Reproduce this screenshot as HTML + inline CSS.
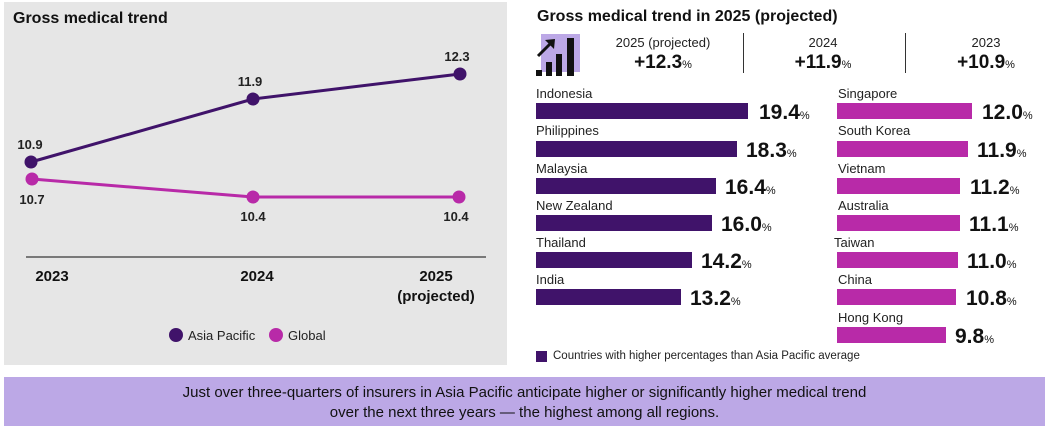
<!DOCTYPE html>
<html><head><style>
body{margin:0;width:1048px;height:430px;background:#fff;font-family:"Liberation Sans",Arial,sans-serif;position:relative;overflow:hidden}
.a{position:absolute;white-space:nowrap}
.lbl{font-size:13px;color:#222}
.bar{position:absolute;height:16px}
.d{background:#40136a}.m{background:#b82aa8}
.v{position:absolute;font-size:21px;font-weight:bold;color:#111;white-space:nowrap}
.v small{font-size:11px;font-weight:normal}
.hd{position:absolute;text-align:center;width:150px}
.hd .t{font-size:13px;color:#222}
.hd .n{font-size:19px;font-weight:bold;color:#111;margin-top:2px}
.hd .n small{font-size:11px;font-weight:normal}
</style></head><body>
<div class="a" style="left:4px;top:2px;width:503px;height:363px;background:#e6e6e6"></div>
<div class="a" style="left:13px;top:10px;font-size:16px;font-weight:bold;color:#111">Gross medical trend</div>
<svg class="a" style="left:0;top:0" width="510" height="370">
<line x1="26" y1="257" x2="486" y2="257" stroke="#555" stroke-width="1.5"/>
<polyline points="31,162 253,99 460,74" fill="none" stroke="#40136a" stroke-width="3"/>
<polyline points="32,179 253,197 459,197" fill="none" stroke="#b82aa8" stroke-width="3"/>
<circle cx="31" cy="162" r="6.5" fill="#40136a"/><circle cx="253" cy="99" r="6.5" fill="#40136a"/><circle cx="460" cy="74" r="6.5" fill="#40136a"/>
<circle cx="32" cy="179" r="6.5" fill="#b82aa8"/><circle cx="253" cy="197" r="6.5" fill="#b82aa8"/><circle cx="459" cy="197" r="6.5" fill="#b82aa8"/>
<g font-family="Liberation Sans,Arial" font-weight="bold" font-size="13" fill="#222" text-anchor="middle">
<text x="30" y="149">10.9</text><text x="250" y="86">11.9</text><text x="457" y="61">12.3</text>
<text x="32" y="204">10.7</text><text x="253" y="221">10.4</text><text x="456" y="221">10.4</text>
</g>
<g font-family="Liberation Sans,Arial" font-weight="bold" font-size="15" fill="#111" text-anchor="middle">
<text x="52" y="281">2023</text><text x="257" y="281">2024</text><text x="436" y="281">2025</text><text x="436" y="301">(projected)</text>
</g>
<circle cx="176" cy="335" r="7" fill="#40136a"/><circle cx="276" cy="335" r="7" fill="#b82aa8"/>
<g font-family="Liberation Sans,Arial" font-size="13" fill="#222"><text x="188" y="340">Asia Pacific</text><text x="288" y="340">Global</text></g>
</svg>

<div class="a" style="left:537px;top:8px;font-size:16px;font-weight:bold;color:#111">Gross medical trend in 2025 (projected)</div>
<div class="a" style="left:541px;top:34px;width:39px;height:38px;background:#bca8e6"></div>
<svg class="a" style="left:534px;top:34px" width="48" height="44">
<rect x="2" y="36" width="6" height="6" fill="#111"/><rect x="12" y="28" width="6" height="14" fill="#111"/><rect x="22" y="20" width="6" height="22" fill="#111"/><rect x="33" y="4" width="7" height="38" fill="#111"/>
<line x1="4" y1="22" x2="17" y2="9" stroke="#111" stroke-width="3"/><polygon points="11,6 21,5 20,15" fill="#111"/>
</svg>
<div class="hd" style="left:588px;top:35px"><div class="t">2025 (projected)</div><div class="n">+12.3<small>%</small></div></div>
<div class="a" style="left:743px;top:33px;width:1px;height:40px;background:#333"></div>
<div class="hd" style="left:748px;top:35px"><div class="t">2024</div><div class="n">+11.9<small>%</small></div></div>
<div class="a" style="left:905px;top:33px;width:1px;height:40px;background:#333"></div>
<div class="hd" style="left:911px;top:35px"><div class="t">2023</div><div class="n">+10.9<small>%</small></div></div>

<div class="a lbl" style="left:536px;top:86px">Indonesia</div><div class="bar d" style="left:536px;top:103px;width:212px"></div><div class="v" style="left:759px;top:101px">19.4<small>%</small></div>
<div class="a lbl" style="left:536px;top:123px">Philippines</div><div class="bar d" style="left:536px;top:141px;width:201px"></div><div class="v" style="left:746px;top:139px">18.3<small>%</small></div>
<div class="a lbl" style="left:536px;top:161px">Malaysia</div><div class="bar d" style="left:536px;top:178px;width:180px"></div><div class="v" style="left:725px;top:176px">16.4<small>%</small></div>
<div class="a lbl" style="left:536px;top:198px">New Zealand</div><div class="bar d" style="left:536px;top:215px;width:176px"></div><div class="v" style="left:721px;top:213px">16.0<small>%</small></div>
<div class="a lbl" style="left:536px;top:235px">Thailand</div><div class="bar d" style="left:536px;top:252px;width:156px"></div><div class="v" style="left:701px;top:250px">14.2<small>%</small></div>
<div class="a lbl" style="left:536px;top:272px">India</div><div class="bar d" style="left:536px;top:289px;width:145px"></div><div class="v" style="left:690px;top:287px">13.2<small>%</small></div>

<div class="a lbl" style="left:838px;top:86px">Singapore</div><div class="bar m" style="left:837px;top:103px;width:135px"></div><div class="v" style="left:982px;top:101px">12.0<small>%</small></div>
<div class="a lbl" style="left:838px;top:123px">South Korea</div><div class="bar m" style="left:837px;top:141px;width:131px"></div><div class="v" style="left:977px;top:139px">11.9<small>%</small></div>
<div class="a lbl" style="left:838px;top:161px">Vietnam</div><div class="bar m" style="left:837px;top:178px;width:123px"></div><div class="v" style="left:970px;top:176px">11.2<small>%</small></div>
<div class="a lbl" style="left:838px;top:198px">Australia</div><div class="bar m" style="left:837px;top:215px;width:123px"></div><div class="v" style="left:969px;top:213px">11.1<small>%</small></div>
<div class="a lbl" style="left:834px;top:235px">Taiwan</div><div class="bar m" style="left:837px;top:252px;width:121px"></div><div class="v" style="left:967px;top:250px">11.0<small>%</small></div>
<div class="a lbl" style="left:838px;top:272px">China</div><div class="bar m" style="left:837px;top:289px;width:119px"></div><div class="v" style="left:966px;top:287px">10.8<small>%</small></div>
<div class="a lbl" style="left:838px;top:310px">Hong Kong</div><div class="bar m" style="left:837px;top:327px;width:109px"></div><div class="v" style="left:955px;top:325px">9.8<small>%</small></div>

<div class="a" style="left:536px;top:351px;width:11px;height:11px;background:#40136a"></div>
<div class="a" style="left:553px;top:350px;font-size:11.5px;color:#222">Countries with higher percentages than Asia Pacific average</div>

<div class="a" style="left:4px;top:377px;width:1041px;height:49px;background:#bca8e6"></div>
<div class="a" style="left:4px;top:383px;width:1041px;text-align:center;font-size:15px;line-height:20px;color:#111;white-space:normal">Just over three-quarters of insurers in Asia Pacific anticipate higher or significantly higher medical trend<br>over the next three years — the highest among all regions.</div>
</body></html>
